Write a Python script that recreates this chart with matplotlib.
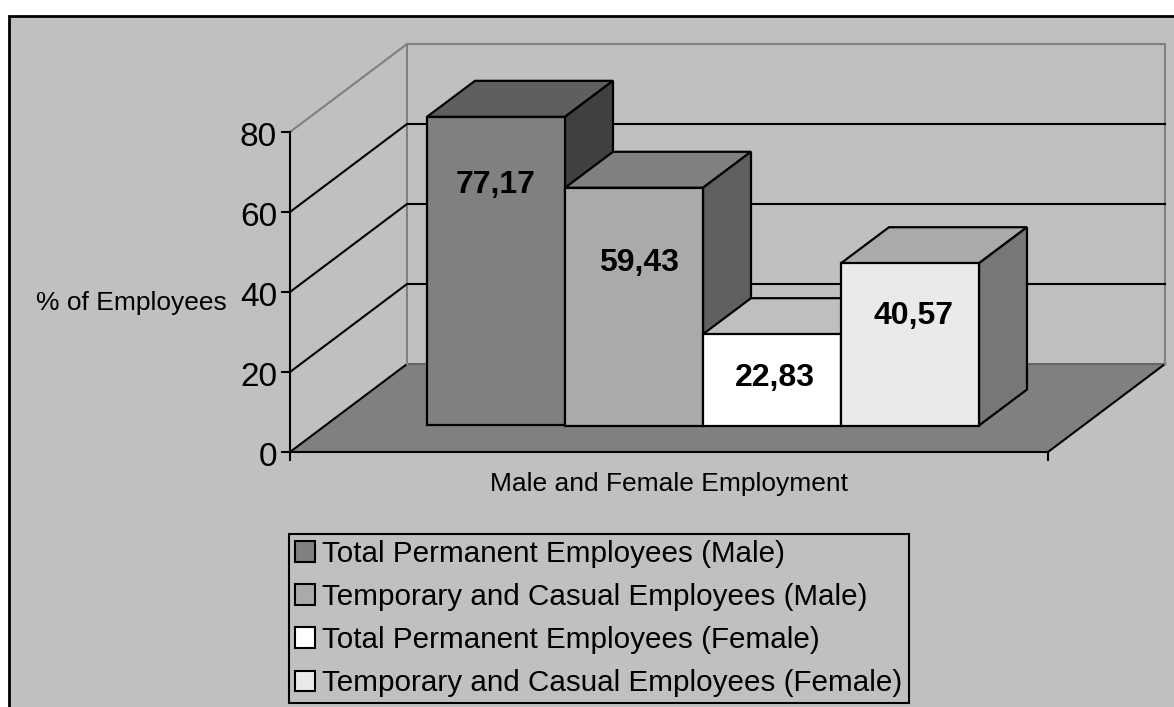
import matplotlib
matplotlib.use("Agg")
import matplotlib.pyplot as plt
from matplotlib.patches import Patch, Polygon, Rectangle

plt.rcParams['font.family'] = ['Liberation Sans', 'DejaVu Sans']

# Data
categories = ["Total Permanent Employees (Male)",
              "Temporary and Casual Employees (Male)",
              "Total Permanent Employees (Female)",
              "Temporary and Casual Employees (Female)"]
values = [77.17, 59.43, 22.83, 40.57]
y_ticks = [0, 20, 40, 60, 80]
x_title = "Male and Female Employment"
y_title = "% of Employees"

# Bar colours: front, top, side
front_colors = ["#808080", "#aaaaaa", "#ffffff", "#eaeaea"]
top_colors = ["#5f5f5f", "#808080", "#bfbfbf", "#aaaaaa"]
side_colors = ["#404040", "#606060", "#808080", "#777777"]
bg = "#c0c0c0"
wall_line = "#808080"

# Fake 3D projection, everything in pixels of the picture
x0, x1 = 290, 1048     # front axis
y0 = 452               # y of value 0 on the front axis
scale = 4.0            # pixels per percent
depth_x, depth_y = 117, 88
bar_left, bar_width = 427, 138
bar_base = 425.5
bar_dx, bar_dy = 48, 36
lw = 1.5
bar_lw = 1.6

# where the value labels sit inside the bars
label_dx = [0, 5, 3, 3]
label_dy = [68, 75, 44, 53]


def val_y(v):
    return y0 - v * scale


fig = plt.figure(figsize=(11.74, 7.07), dpi=100, facecolor="white")
ax = fig.add_axes([0, 0, 1, 1])
ax.set_xlim(0, 1174)
ax.set_ylim(707, 0)
ax.axis("off")

# Chart area
ax.add_patch(Rectangle((9, 16), 1175, 700, fc=bg, ec="black", lw=2))

# Floor
floor = [(x0, y0), (x0 + depth_x, y0 - depth_y), (x1 + depth_x, y0 - depth_y), (x1, y0)]
ax.add_patch(Polygon(floor, fc="#808080", ec="none", zorder=1))
ax.plot([x0 + depth_x, x1 + depth_x], [y0 - depth_y] * 2, color="#666666", lw=lw, zorder=1.5)
ax.plot([x0, x0 + depth_x], [y0, y0 - depth_y], color="black", lw=lw, zorder=1.5)
ax.plot([x1, x1 + depth_x], [y0, y0 - depth_y], color="black", lw=lw, zorder=1.5)

# Walls and grid lines
top = max(y_ticks)
ax.plot([x0, x0 + depth_x, x1 + depth_x, x1 + depth_x],
        [val_y(top), val_y(top) - depth_y, val_y(top) - depth_y, y0 - depth_y],
        color=wall_line, lw=lw, zorder=1.5)
ax.plot([x0 + depth_x] * 2, [val_y(top) - depth_y, y0 - depth_y], color=wall_line, lw=lw, zorder=1.5)
for t in y_ticks[1:-1]:
    ax.plot([x0, x0 + depth_x, x1 + depth_x],
            [val_y(t), val_y(t) - depth_y, val_y(t) - depth_y],
            color="black", lw=lw, zorder=1.5)

# Axes
ax.plot([x0, x0], [val_y(top), y0], color="black", lw=lw, zorder=2)
ax.plot([x0, x1], [y0, y0], color="black", lw=lw, zorder=2)
for t in y_ticks:
    ax.plot([x0 - 8, x0], [val_y(t)] * 2, color="black", lw=lw, zorder=2)
    ax.text(x0 - 13, val_y(t) + 5, str(t), ha="right", va="center", fontsize=24, zorder=5)
for x in [x0, x1]:
    ax.plot([x, x], [y0, y0 + 8], color="black", lw=lw, zorder=2)

# Bars
for i, v in enumerate(values):
    left = bar_left + i * bar_width
    right = left + bar_width
    h = bar_base - v * scale
    z = 3 + i * 0.1
    kw = dict(ec="black", lw=bar_lw, joinstyle="miter", zorder=z)
    ax.add_patch(Polygon([(left, h), (left + bar_dx, h - bar_dy), (right + bar_dx, h - bar_dy), (right, h)],
                         fc=top_colors[i], **kw))
    ax.add_patch(Polygon([(right, h), (right + bar_dx, h - bar_dy),
                          (right + bar_dx, bar_base - bar_dy), (right, bar_base)],
                         fc=side_colors[i], **kw))
    ax.add_patch(Rectangle((left, h), bar_width, v * scale, fc=front_colors[i], **kw))
    label = f"{v:.2f}".replace(".", ",")
    ax.text(left + bar_width / 2 + label_dx[i], h + label_dy[i], label, ha="center", va="center",
            fontsize=23, fontweight="bold", zorder=5)

# Axis titles
ax.text(669, 484, x_title, ha="center", va="center", fontsize=19)
ax.text(131, 303, y_title, ha="center", va="center", fontsize=19)

# Legend
handles = [Patch(fc=c, ec="black", lw=lw) for c in front_colors]
leg = ax.legend(handles, categories, loc="lower left", bbox_to_anchor=(289, 703),
                bbox_transform=ax.transData, frameon=True, fancybox=False, framealpha=1,
                facecolor="none", edgecolor="black", fontsize=21.3, handlelength=0.68,
                handleheight=0.68, handletextpad=0.25, labelspacing=0.51,
                borderpad=0.2, borderaxespad=0)
leg.get_frame().set_linewidth(lw)

fig.savefig("out.png", dpi=100)
